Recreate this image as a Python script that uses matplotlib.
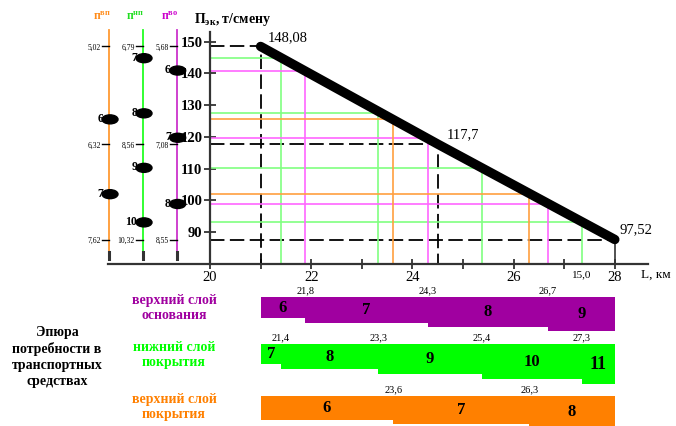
import matplotlib
matplotlib.use('Agg')
import matplotlib.pyplot as plt
from matplotlib.patches import Ellipse

plt.rcParams['font.family'] = ['Liberation Serif', 'DejaVu Serif']
plt.rcParams['mathtext.fontset'] = 'custom'
plt.rcParams['mathtext.rm'] = 'Liberation Serif'
plt.rcParams['mathtext.bf'] = 'Liberation Serif:bold'
plt.rcParams['mathtext.it'] = 'Liberation Serif:italic'

# ---------------- data ----------------
line_L = [21.0, 24.5, 28.0]
line_P = [148.5, 117.7, 87.6]
line_labels = ['148,08', '117,7', '97,52']

y_ticks = [90, 100, 110, 120, 130, 140, 150]
x_ticks = [20, 21, 22, 23, 24, 25, 26, 27, 28]
x_ticklabels = ['20', '', '22', '', '24', '', '26', '', '28']

# верхний слой основания (magenta)
base_L = [21.88, 24.30, 26.68]
base_P = [140.9, 119.7, 98.8]
base_L_labels = ['21,8', '24,3', '26,7']
base_n = [6, 7, 8, 9]
base_scale = ['5,68', '7,08', '8,55']

# нижний слой покрытия (green)
lower_L = [21.40, 23.33, 25.37, 27.35]
lower_P = [144.8, 127.4, 110.2, 93.0]
lower_L_labels = ['21,4', '23,3', '25,4', '27,3']
lower_n = [7, 8, 9, 10, 11]
lower_scale = ['6,79', '8,56', '10,32']

# верхний слой покрытия (orange)
upper_L = [23.62, 26.31]
upper_P = [125.5, 101.9]
upper_L_labels = ['23,6', '26,3']
upper_n = [6, 7, 8]
upper_scale = ['5,02', '6,32', '7,62']

L_start, L_end = 20.0, 28.0
P_base = 80.0

# ---------------- layout ----------------
W, H = 676, 426
fig = plt.figure(figsize=(W / 100, H / 100), dpi=100)
X0_PX, PX_PER_KM = 210.0, 50.6
Y150_PX, PX_PER_UNIT = 41.7, 3.17


def kx(px):
    return 20 + (px - X0_PX) / PX_PER_KM


def vy(py):
    return 150 - (py - Y150_PX) / PX_PER_UNIT


def dkx(px):
    return px / PX_PER_KM


def dvy(py):
    return py / PX_PER_UNIT


ax = fig.add_axes([0, 0, 1, 1])
ax.set_xlim(kx(0), kx(W))
ax.set_ylim(vy(H), vy(0))
ax.patch.set_alpha(0)
for s in ['top', 'right']:
    ax.spines[s].set_visible(False)
ax.spines['left'].set_position(('data', L_start))
ax.spines['left'].set_bounds(P_base, vy(31.7))
ax.spines['bottom'].set_position(('data', P_base))
ax.spines['bottom'].set_bounds(kx(108), kx(648))
for s in ['left', 'bottom']:
    ax.spines[s].set_linewidth(1.6)
    ax.spines[s].set_color('#333333')
ax.set_yticks(y_ticks)
ax.set_yticklabels([str(v) for v in y_ticks], fontweight='bold')
ax.set_xticks(x_ticks)
ax.set_xticklabels(x_ticklabels)
ax.tick_params(axis='y', direction='inout', length=9, width=1.3, pad=1,
               labelsize=10.5, color='#333333')
ax.tick_params(axis='x', direction='inout', length=7, width=1.3, pad=2,
               labelsize=10.5, color='#333333')

# dashed guides
dash_kw = dict(color='black', lw=1.3, dashes=(8, 3))
ax.plot([L_start, line_L[0], line_L[0]], [line_P[0], line_P[0], P_base], **dash_kw)
ax.plot([L_start, line_L[1], line_L[1]], [line_P[1], line_P[1], P_base], **dash_kw)
ax.plot([L_start, line_L[2]], [line_P[2], line_P[2]], **dash_kw)
ax.plot([line_L[2], line_L[2]], [line_P[2], P_base], color='#333333', lw=1.2)

# colored rectangles
rect_specs = [
    (lower_L, lower_P, '#80ff80'),
    (base_L, base_P, '#ff66ff'),
    (upper_L, upper_P, '#ffa040'),
]
for Ls, Ps, c in rect_specs:
    for L, P in zip(Ls, Ps):
        ax.plot([L_start, L, L], [P, P, P_base], color=c, lw=1.2, zorder=2)

# main line
ax.plot(line_L, line_P, color='black', lw=6.8, solid_capstyle='round',
        solid_joinstyle='round', zorder=5)
ax.text(kx(268), vy(38), line_labels[0], fontsize=10.5, ha='left', va='center')
ax.text(kx(447), vy(135), line_labels[1], fontsize=10.5, ha='left', va='center')
ax.text(kx(619), vy(230), line_labels[2], fontsize=10.5, ha='left', va='center')

# axis titles
ax.text(kx(194), vy(20), r'П$_{\mathregular{эк}}$, т/смену', fontsize=10,
        ha='left', va='center', fontweight='bold')
ax.text(kx(641), vy(275), 'L, км', fontsize=9.5, ha='left', va='center')
ax.text(lower_L[-1], vy(275), '15,0', fontsize=8, ha='center', va='center')

# nomogram scales
scale_specs = [
    (109.0, '#ff9a33', '#ff8c1a', upper_P, upper_n, upper_scale, 'вп'),
    (143.0, '#22ff22', '#22dd22', lower_P, lower_n, lower_scale, 'нп'),
    (176.7, '#cc33cc', '#cc00cc', base_P, base_n, base_scale, 'во'),
]
for sx_px, c, tc, Ps, ns, labs, sup in scale_specs:
    sx = kx(sx_px)
    ax.plot([sx, sx], [vy(253), vy(30)], color=c, lw=1.3, zorder=2)
    ax.plot([sx, sx], [vy(252), vy(259)], color='#333333', lw=2.2, zorder=3)
    for P, lab in zip(line_P, labs):
        ax.plot([sx - dkx(7), sx], [P, P], color='black', lw=1.0, zorder=3)
        ax.text(sx - dkx(8), P - dvy(1.5), lab, fontsize=5.5, ha='right',
                va='center')
    for P, n in zip(Ps, ns[:-1]):
        ax.add_patch(Ellipse((sx + dkx(1), P), dkx(16), dvy(9),
                             color='black', zorder=4))
        ax.text(sx - dkx(6), P + dvy(0.5), str(n), fontsize=8.5,
                fontweight='bold', ha='right', va='center', zorder=4)
    ax.text(sx + dkx(1.5), vy(17), r'п$^{\mathbf{%s}}$' % sup, color=tc,
            fontsize=8.5, fontweight='bold', ha='right', va='center')

# ---------------- bottom epure ----------------
axb = fig.add_axes([0, 0, 1, 1])
axb.set_xlim(kx(0), kx(W))
axb.set_ylim(H, 0)
axb.axis('off')
axb.patch.set_alpha(0)

rows = [
    (base_L, base_L_labels, base_n, '#a000a0', 296.7, 21.7, 4.2,
     'верхний слой\nоснования', 308),
    (lower_L, lower_L_labels, lower_n, '#00ff00', 344.0, 20.0, 5.1,
     'нижний слой\nпокрытия', 355),
    (upper_L, upper_L_labels, upper_n, '#ff8000', 395.7, 24.3, 4.3,
     'верхний слой\nпокрытия', 407),
]
for Ls, Llabs, ns, c, top, h0, step, name, name_y in rows:
    edges = [line_L[0]] + list(Ls) + [L_end]
    for i, n in enumerate(ns):
        left, right = edges[i], edges[i + 1]
        h = h0 + step * (n - ns[0])
        axb.bar(left, h, width=right - left, bottom=top, align='edge',
                color=c, edgecolor='none')
        axb.text((left + right) / 2, top + h / 2, str(n),
                 fontsize=13 if n >= 11 else 12, fontweight='bold',
                 ha='center', va='center')
    for L, lab in zip(Ls, Llabs):
        axb.text(L, top - 1.5, lab, fontsize=7.5, ha='center', va='bottom')
    axb.text(kx(174), name_y, name, color=c, fontsize=10, fontweight='bold',
             ha='center', va='center', linespacing=1.25)

axb.text(kx(57), 357, 'Эпюра\nпотребности в\nтранспортных\nсредствах',
         fontsize=10, fontweight='bold', ha='center', va='center',
         linespacing=1.3)

fig.savefig('out.png', dpi=100)
